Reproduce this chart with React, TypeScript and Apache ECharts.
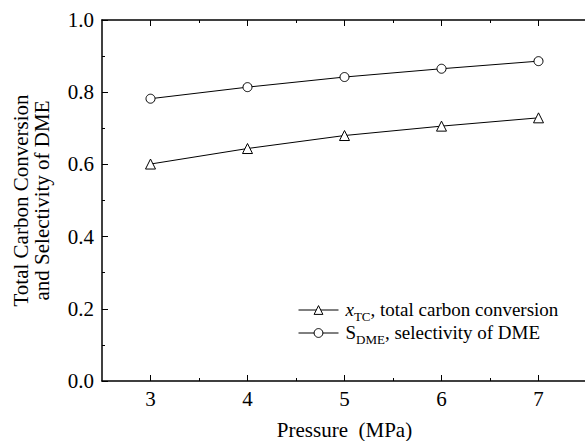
import React, { useEffect, useRef } from "react";
import * as echarts from "echarts";

const pressure = [3, 4, 5, 6, 7];
const totalCarbonConversion = [0.601, 0.644, 0.68, 0.706, 0.729];
const selectivityDME = [0.782, 0.814, 0.842, 0.865, 0.886];
const xMajorTicks = [3, 4, 5, 6, 7];
const xMinorTicks = [3.5, 4.5, 5.5, 6.5];

const FONT = "Liberation Serif";

export default function App() {
  const ref = useRef<HTMLDivElement>(null);
  useEffect(() => {
    document.body.style.margin = "0";
    const chart = echarts.init(ref.current!, null, { renderer: "svg" });
    const black = "#000";
    const xBase = {
      type: "value",
      min: 2.5,
      max: 7.5,
      splitLine: { show: false },
      axisLine: { show: true, onZero: false, lineStyle: { color: black, width: 1.5 } },
    };
    chart.setOption({
      animation: false,
      backgroundColor: "#fff",
      textStyle: { fontFamily: FONT, color: black },
      grid: { left: 102, top: 20, bottom: 60, right: -2, containLabel: false, outerBoundsMode: "none" },
      xAxis: [
        {
          ...xBase,
          position: "bottom",
          name: "Pressure  (MPa)",
          nameLocation: "middle",
          nameGap: 38,
          nameTextStyle: { fontFamily: FONT, fontSize: 21, lineHeight: 21, color: black },
          axisTick: { show: true, inside: true, length: 6, customValues: xMajorTicks, lineStyle: { color: black } },
          axisLabel: { customValues: xMajorTicks, fontFamily: FONT, fontSize: 21, color: black, margin: 7 },
        },
        {
          ...xBase,
          position: "bottom",
          axisLine: { show: false },
          axisTick: { show: true, inside: true, length: 3, customValues: xMinorTicks, lineStyle: { color: black } },
          axisLabel: { show: false },
        },
        {
          ...xBase,
          position: "top",
          axisTick: { show: true, inside: true, length: 6, customValues: xMajorTicks, lineStyle: { color: black } },
          axisLabel: { show: false },
        },
        {
          ...xBase,
          position: "top",
          axisLine: { show: false },
          axisTick: { show: true, inside: true, length: 3, customValues: xMinorTicks, lineStyle: { color: black } },
          axisLabel: { show: false },
        },
      ],
      yAxis: {
        type: "value",
        min: 0,
        max: 1,
        interval: 0.2,
        name: "Total Carbon Conversion\nand Selectivity of DME",
        nameLocation: "middle",
        nameGap: 50,
        nameTextStyle: { fontFamily: FONT, fontSize: 21, color: black, lineHeight: 21 },
        splitLine: { show: false },
        axisLine: { show: true, lineStyle: { color: black, width: 1.5 } },
        axisTick: { show: true, inside: true, length: 6, lineStyle: { color: black } },
        minorTick: { show: true, splitNumber: 2, length: 3, lineStyle: { color: black } },
        axisLabel: {
          fontFamily: FONT,
          fontSize: 21,
          color: black,
          margin: 8,
          formatter: (v: number) => v.toFixed(1),
        },
      },
      legend: {
        orient: "vertical",
        left: 298,
        top: 300,
        padding: 0,
        itemWidth: 40,
        itemHeight: 11,
        itemGap: 0,
        data: ["tc", "dme"],
        lineStyle: { width: 1, color: black },
        itemStyle: { color: "#fff", borderColor: black, borderWidth: 1 },
        formatter: (name: string) =>
          name === "tc"
            ? "{i|x}{sub|TC}{n|, total carbon conversion}"
            : "{n|S}{sub|DME}{n|, selectivity of DME}",
        textStyle: {
          fontFamily: FONT,
          fontSize: 19,
          color: black,
          padding: [0, 0, 0, 2],
          rich: {
            n: { fontFamily: FONT, fontSize: 19, color: black, lineHeight: 20, verticalAlign: "top" },
            i: { fontFamily: FONT, fontSize: 19, color: black, fontStyle: "italic", lineHeight: 20, verticalAlign: "top" },
            sub: { fontFamily: FONT, fontSize: 13, color: black, lineHeight: 12, padding: [10, 0, 0, 0], verticalAlign: "top" },
          },
        },
      },
      series: [
        {
          name: "tc",
          type: "line",
          xAxisIndex: 0,
          data: pressure.map((p, i) => [p, totalCarbonConversion[i]]),
          symbol: "triangle",
          symbolSize: 10,
          lineStyle: { color: black, width: 1 },
          itemStyle: { color: "#fff", borderColor: black, borderWidth: 1 },
        },
        {
          name: "dme",
          type: "line",
          xAxisIndex: 0,
          data: pressure.map((p, i) => [p, selectivityDME[i]]),
          symbol: "circle",
          symbolSize: 9,
          lineStyle: { color: black, width: 1 },
          itemStyle: { color: "#fff", borderColor: black, borderWidth: 1 },
        },
      ],
    });
    return () => chart.dispose();
  }, []);
  return <div ref={ref} style={{ width: 585, height: 441 }} />;
}
